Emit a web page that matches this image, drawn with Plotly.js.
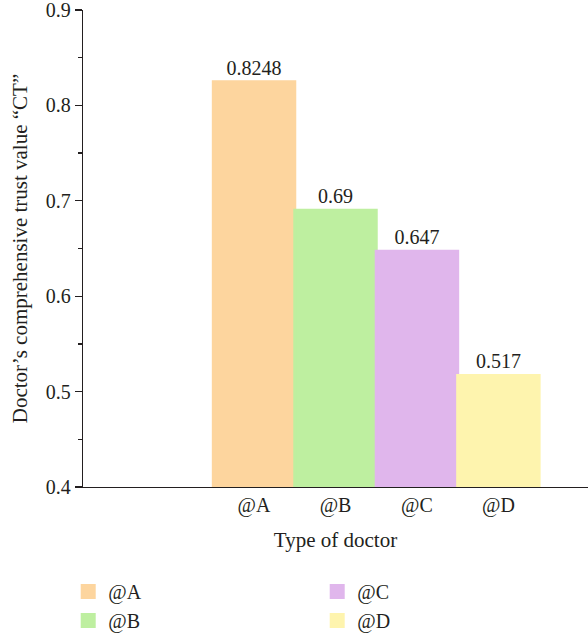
<!DOCTYPE html>
<html>
<head>
<meta charset="utf-8">
<script src="https://cdn.plot.ly/plotly-3.0.1.min.js"></script>
<style>html,body{margin:0;padding:0;background:#fff;overflow:hidden;}</style>
</head>
<body>
<div id="chart" style="width:588px;height:637px;"></div>
<script>
// Data
const categories = ['@A', '@B', '@C', '@D'];
const trustValues = [0.8248, 0.69, 0.647, 0.517];
const valueLabels = ['0.8248', '0.69', '0.647', '0.517'];
const yTickVals = [0.4, 0.5, 0.6, 0.7, 0.8, 0.9];
const yTickText = ['0.4', '0.5', '0.6', '0.7', '0.8', '0.9'];
const barColors = ['#FDD59E', '#BEEFA0', '#E0B6EC', '#FEF4AE'];
const legendRanks = [1, 3, 2, 4];

const FONT = 'Liberation Serif, DejaVu Serif, serif';
const INK = '#231f20';

const traces = categories.map((c, i) => ({
  type: 'bar',
  name: c,
  x: [c],
  y: [trustValues[i]],
  text: [valueLabels[i]],
  textposition: 'outside',
  cliponaxis: false,
  textfont: {family: FONT, size: 20, color: INK},
  width: 1,
  marker: {color: barColors[i], line: {color: barColors[i], width: 3}},
  legendrank: legendRanks[i],
  hoverinfo: 'x+y'
}));

const layout = {
  width: 588,
  height: 637,
  margin: {l: 83, r: 0, t: 10, b: 150},
  paper_bgcolor: '#ffffff',
  plot_bgcolor: '#ffffff',
  font: {family: FONT, size: 20, color: INK},
  barmode: 'overlay',
  bargap: 0,
  showlegend: true,
  xaxis: {
    type: 'category',
    categoryorder: 'array',
    categoryarray: categories,
    range: [-2.1, 4.1],
    showline: true,
    linecolor: INK,
    linewidth: 1.3,
    ticks: '',
    ticklabelstandoff: 0,
    showgrid: false,
    zeroline: false,
    tickfont: {family: FONT, size: 20, color: INK},
    title: {text: 'Type of doctor', font: {family: FONT, size: 21, color: INK}, standoff: 16}
  },
  yaxis: {
    range: [0.4, 0.9],
    tickmode: 'array',
    tickvals: yTickVals,
    ticktext: yTickText,
    ticklabeloverflow: 'allow',
    ticks: 'outside',
    ticklen: 7,
    tickwidth: 1.3,
    tickcolor: INK,
    showline: true,
    linecolor: INK,
    linewidth: 1.3,
    showgrid: false,
    zeroline: false,
    minor: {tickmode: 'linear', tick0: 0.45, dtick: 0.1, ticks: 'outside', ticklen: 4, tickwidth: 1.3, tickcolor: INK, showgrid: false},
    tickfont: {family: FONT, size: 20, color: INK},
    title: {text: 'Doctor’s comprehensive trust value “CT”', font: {family: FONT, size: 21, color: INK}, standoff: 12}
  },
  legend: {
    orientation: 'h',
    xref: 'container',
    x: 0.116,
    xanchor: 'left',
    yref: 'container',
    y: 0.102,
    yanchor: 'top',
    entrywidth: 204,
    entrywidthmode: 'pixels',
    font: {family: FONT, size: 20, color: INK},
    bgcolor: 'rgba(0,0,0,0)',
    traceorder: 'normal'
  }
};

Plotly.newPlot('chart', traces, layout, {staticPlot: true, displayModeBar: false});
</script>
</body>
</html>
